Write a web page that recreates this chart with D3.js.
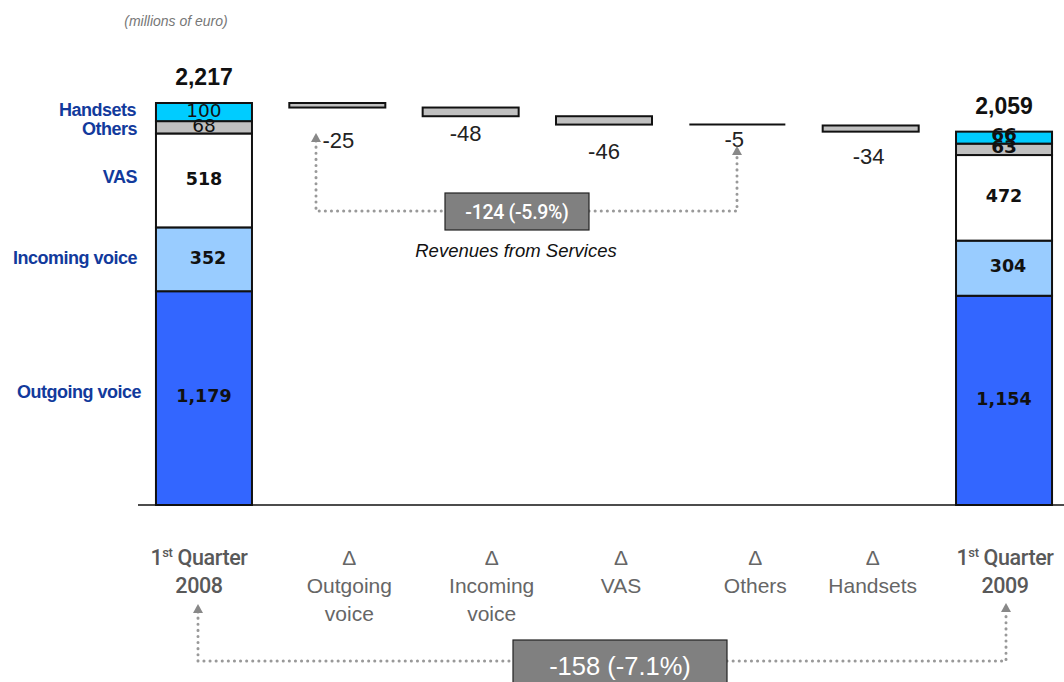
<!DOCTYPE html>
<html><head><meta charset="utf-8">
<script src="https://cdn.jsdelivr.net/npm/d3@7"></script>
<style>
html,body{margin:0;padding:0;background:#fff;}
svg{display:block;}
</style></head>
<body>
<svg id="c" width="1064" height="682"></svg>
<script>
// ---- data ----
const categories = ["Q1 2008","dOutgoing","dIncoming","dVAS","dOthers","dHandsets","Q1 2009"];
const categoryLines = [["1st Quarter","2008"],["Δ","Outgoing","voice"],["Δ","Incoming","voice"],["Δ","VAS"],["Δ","Others"],["Δ","Handsets"],["1st Quarter","2009"]];
const segments = ["Outgoing voice","Incoming voice","VAS","Others","Handsets"];
const q1_2008 = [1179, 352, 518, 68, 100];
const q1_2009 = [1154, 304, 472, 63, 66];
const deltas = [-25, -48, -46, -5, -34];
const totalLabels = ["2,217", "2,059"];
const servicesLabel = "-124 (-5.9%)";
const totalChangeLabel = "-158 (-7.1%)";

// ---- layout/style ----
const segColors = ["#3366ff","#99ccff","#ffffff","#c0c0c0","#00ccff"];
const deltaLabelNudge = [33, 17, 27, 14, 24];   // px below bar bottom
const deltaLabelDx = [1, -5, 0, -3, -2];
const catLabelDx = [-5, 12, 21, 17, 18, 2, 1];
const W = 1064, H = 682, baseY = 505;
const SANS = "Liberation Sans, Arial, sans-serif";

const svg = d3.select("#c");
const total0 = d3.sum(q1_2008);
const x = d3.scaleBand().domain(categories).range([137.3, 1070.7]).paddingInner(0.28).paddingOuter(0.14);
const y = d3.scaleLinear().domain([0, total0]).range([baseY, 103]);
const bw = x.bandwidth();
const fmt = d3.format(",");

// subtitle
svg.append("text").attr("x", 176).attr("y", 26).attr("text-anchor","middle")
  .attr("font-family",SANS).attr("font-size",14)
  .attr("font-style","italic").attr("fill","#777").text("(millions of euro)");

// stacked bars
function stackBar(cat, vals, idx) {
  let cum = 0;
  const g = svg.append("g");
  vals.forEach((v, i) => {
    const y0 = y(cum), y1 = y(cum + v);
    g.append("rect").attr("x", x(cat)).attr("y", y1).attr("width", bw).attr("height", y0 - y1)
      .attr("fill", segColors[i]).attr("stroke", "#111").attr("stroke-width", 2);
    cum += v;
  });
  cum = 0;
  vals.forEach((v, i) => {
    const y0 = y(cum), y1 = y(cum + v);
    const small = i >= 3;
    const dyAdj = small ? (idx === 0 ? -2 : -3) : -2;
    g.append("text").attr("x", x(cat) + bw/2 + (i===1?4:0)).attr("y", (y0 + y1)/2 + dyAdj)
      .attr("dy","0.36em").attr("text-anchor","middle")
      .attr("font-family","DejaVu Sans, Verdana, sans-serif")
      .attr("font-weight", (small && idx === 0) ? "normal" : "bold")
      .attr("font-size", small ? 18.5 : 17.5).attr("fill","#111").text(fmt(v));
    cum += v;
  });
  g.append("text").attr("x", x(cat) + bw/2).attr("y", y(cum) - 18)
    .attr("text-anchor","middle").attr("font-family",SANS)
    .attr("font-weight","bold").attr("font-size",23).attr("fill","#111").text(totalLabels[idx]);
  return cum;
}
stackBar(categories[0], q1_2008, 0);
stackBar(categories[6], q1_2009, 1);

// segment legend labels (left)
{
  let cum = 0;
  q1_2008.forEach((v, i) => {
    const yc = (y(cum) + y(cum + v)) / 2;
    const adj = [ -7, -2, -4, 1, -3 ][i];
    const rx = [141, 137, 137, 137, 136][i];
    svg.append("text").attr("x", rx).attr("y", yc + adj).attr("dy","0.36em")
      .attr("text-anchor","end").attr("font-family",SANS)
      .attr("font-weight","bold").attr("font-size",18).attr("fill","#123a9c")
      .attr("letter-spacing", -0.5).text(segments[i]);
    cum += v;
  });
}

// waterfall delta bars
{
  let level = total0;
  deltas.forEach((d, i) => {
    const cat = categories[i + 1];
    const top = y(level), bot = y(level + d);
    const h = bot - top;
    if (h < 2) {
      svg.append("line").attr("x1", x(cat)).attr("x2", x(cat) + bw).attr("y1", top).attr("y2", top)
        .attr("stroke","#111").attr("stroke-width",2);
    } else {
      svg.append("rect").attr("x", x(cat)).attr("y", top).attr("width", bw).attr("height", h)
        .attr("fill","#c0c0c0").attr("stroke","#111").attr("stroke-width",2);
    }
    svg.append("text").attr("x", x(cat) + bw/2 + deltaLabelDx[i]).attr("y", bot + deltaLabelNudge[i])
      .attr("dy","0.36em").attr("text-anchor","middle")
      .attr("font-family",SANS).attr("font-size",22).attr("fill","#222")
      .text(d);
    level += d;
  });
}

// baseline + x axis
const axis = d3.axisBottom(x).tickSize(0).tickSizeOuter(0);
const ax = svg.append("g").attr("transform", `translate(0,${baseY})`).call(axis);
ax.select(".domain").remove();
svg.append("line").attr("x1",138).attr("x2",W).attr("y1",baseY).attr("y2",baseY)
  .attr("stroke","#111").attr("stroke-width",1.5);
ax.selectAll(".tick text").each(function(d, i) {
  const t = d3.select(this);
  t.text(null).attr("y", 0).attr("dy", null).attr("x", catLabelDx[i])
    .attr("font-family",SANS).attr("font-size",21)
    .attr("fill", "#666");
  const lines = categoryLines[i];
  lines.forEach((ln, k) => {
    const yy = 60 + k * 28;
    if (ln.startsWith("1st")) {
      t.attr("font-family","Roboto, Liberation Sans, sans-serif").attr("font-weight",500)
        .attr("fill","#595959").attr("font-size",21.5).attr("letter-spacing",-0.4);
      t.append("tspan").attr("x", catLabelDx[i]).attr("y", yy).text("1");
      t.append("tspan").attr("font-size", 13).attr("dy", -8).text("st");
      t.append("tspan").attr("dy", 8).text(" Quarter");
    } else {
      t.append("tspan").attr("x", catLabelDx[i]).attr("y", yy).text(ln);
    }
  });
});

// dotted connectors
const dotStyle = s => s.attr("fill","none").attr("stroke","#999").attr("stroke-width",3)
  .attr("stroke-linecap","round").attr("stroke-dasharray","0.1,6");
function arrow(xp, yp) {
  svg.append("path").attr("d", `M${xp-5},${yp+9}L${xp},${yp}L${xp+5},${yp+9}Z`).attr("fill","#888");
}
// services
const sx1 = 316, sx2 = 737, sy = 211;
svg.append("path").attr("d", `M${sx1},${141}V${sy}H445`).call(dotStyle);
svg.append("path").attr("d", `M589,${sy}H${sx2}V${154}`).call(dotStyle);
arrow(sx1, 133); arrow(sx2, 146);
svg.append("rect").attr("x",445).attr("y",193).attr("width",144).attr("height",37)
  .attr("fill","#808080").attr("stroke","#222").attr("stroke-width",1.2);
svg.append("text").attr("x",517).attr("y",212).attr("dy","0.36em").attr("text-anchor","middle")
  .attr("font-family","Roboto, Liberation Sans, sans-serif").attr("font-weight",500)
  .attr("font-size",19.5).attr("fill","#fff").attr("letter-spacing",-0.3).text(servicesLabel);
svg.append("text").attr("x",516).attr("y",250).attr("dy","0.36em").attr("text-anchor","middle")
  .attr("font-family",SANS).attr("font-style","italic")
  .attr("font-size",18.5).attr("fill","#111").text("Revenues from Services");

// total change
const bx1 = 198, bx2 = 1006, by = 661;
svg.append("path").attr("d", `M${bx1},612V${by}H513`).call(dotStyle);
svg.append("path").attr("d", `M727,${by}H${bx2}V611`).call(dotStyle);
arrow(bx1, 604); arrow(bx2, 603);
svg.append("rect").attr("x",513).attr("y",640).attr("width",214).attr("height",60)
  .attr("fill","#808080").attr("stroke","#222").attr("stroke-width",1.2);
svg.append("text").attr("x",620).attr("y",666).attr("dy","0.36em").attr("text-anchor","middle")
  .attr("font-family",SANS)
  .attr("font-size",25.5).attr("fill","#fff").text(totalChangeLabel);
</script>
</body></html>
